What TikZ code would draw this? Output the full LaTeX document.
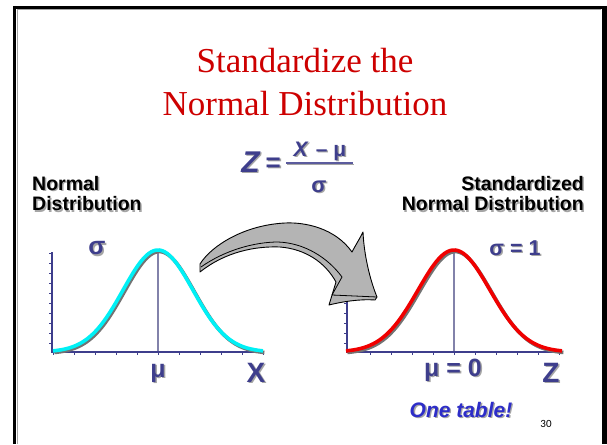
\documentclass[tikz,border=0pt]{standalone}
\usepackage{fontspec}
\setmainfont{Liberation Serif}
\newfontfamily\arialf{Liberation Sans}
\newfontfamily\calibf{Carlito}
\definecolor{slate}{RGB}{62,62,140}
\definecolor{shadowc}{RGB}{165,165,165}
\definecolor{ticol}{RGB}{205,0,0}
\definecolor{tblue}{RGB}{45,45,200}
\definecolor{meanl}{RGB}{130,130,170}
\definecolor{arrowg}{RGB}{180,180,180}
\definecolor{cyanc}{RGB}{0,240,245}
\definecolor{redc}{RGB}{240,0,0}
\newcommand{\shd}[1]{\leavevmode\rlap{\kern1.4pt\raisebox{-1.4pt}{\color{shadowc}#1}}#1}
\newcommand{\fsz}[1]{\fontsize{#1}{#1}\selectfont}
\begin{document}
\begin{tikzpicture}[x=1pt,y=-1pt,
  title/.style={text=ticol,font=\fsz{35},anchor=base,inner sep=0pt},
  lbl/.style={text=slate,font=\arialf\bfseries\fsz{25},anchor=base,inner sep=0pt},
  hdr/.style={text=black,font=\arialf\bfseries\fsz{19.5},inner sep=0pt},
  axisl/.style={draw=slate,line width=2pt},
  tick/.style={draw=slate,line width=1pt},
  meanline/.style={draw=meanl,line width=1.3pt},
  curveshadow/.style={draw=black!55,line width=3.6pt},
]
\useasboundingbox (0,0) rectangle (607,444);
% frame
\draw[shadowc,line width=1pt] (17,10) -- (601,10);
\draw[shadowc,line width=1pt] (17,10) -- (17,444);
\draw[black,line width=3pt] (13,7.5) -- (607,7.5);
\draw[black,line width=3pt] (14.5,6) -- (14.5,444);
\draw[black,line width=5pt] (604.5,6) -- (604.5,444);

% title
\node[title] (t1) at (305,73) {Standardize the};
\node[title] (t2) at (305,115) {Normal Distribution};

% formula
\node[lbl,font=\arialf\bfseries\fsz{26},anchor=base east] (fz) at (281,172)
  {\shd{{\itshape\fsz{30}Z}\kern6pt\raisebox{1pt}{=}}};
\node[lbl,font=\arialf\bfseries\fsz{21}] (fnum) at (320,156) {\shd{\textit{X}\kern7pt–\kern6ptμ}};
\coordinate (fb1) at (286,163);
\coordinate (fb2) at (353,163);
\draw[shadowc,line width=1.5pt] ([shift={(1.3,1.3)}]fb1) -- ([shift={(1.3,1.3)}]fb2);
\draw[slate!85,line width=1.5pt] (fb1) -- (fb2);
\node[lbl,font=\arialf\bfseries\fsz{22}] (fsig) at (319,192) {\shd{σ}};

% headers
\node[hdr,align=left,anchor=north west] (hl) at (32,176) {\shd{Normal}\\[1pt]\shd{Distribution}};
\node[hdr,align=right,anchor=north east] (hr) at (584,176) {\shd{Standardized}\\[1pt]\shd{Normal Distribution}};

% ---------- left plot ----------
\coordinate (lo) at (52,352);
\coordinate (ltop) at (52,252);
\coordinate (lend) at (264,352);
\coordinate (lpk) at (158,250);
\coordinate (lbase) at (158,352);
\foreach \k in {0,...,9} {\draw[tick] (49,253+10*\k) -- (52,253+10*\k);}
\foreach \k in {-5,...,5} {\draw[tick] (158+21*\k,352) -- (158+21*\k,355);}
\draw[meanline] (lpk) -- (lbase);
\draw[axisl] (ltop) -- (lo) -- (lend);
\draw[curveshadow,shift={(1.4,1.6)}] plot[domain=-3:3,samples=80,smooth] ({158+35*\x},{352-102*exp(-\x*\x/2)});
\draw[cyanc,line width=3.6pt] plot[domain=-3:3,samples=80,smooth] ({158+35*\x},{352-102*exp(-\x*\x/2)});
\node[lbl,anchor=center] (lsig) at (97,249) {\shd{σ}};
\node[lbl] (lmu) at (158,377) {\shd{μ}};
\node[lbl,font=\arialf\bfseries\fsz{28}] (lx) at (256,382) {\shd{X}};

% ---------- right plot ----------
\coordinate (ro) at (347,352);
\coordinate (rtop) at (347,252);
\coordinate (rend) at (562,352);
\coordinate (rpk) at (454,250);
\coordinate (rbase) at (454,352);
\foreach \k in {0,...,9} {\draw[tick] (344,253+10*\k) -- (347,253+10*\k);}
\foreach \k in {-4,...,5} {\draw[tick] (454+21*\k,352) -- (454+21*\k,355);}
\draw[meanline] (rpk) -- (rbase);
\draw[axisl] (rtop) -- (ro) -- (rend);
\draw[curveshadow,shift={(1.4,1.6)}] plot[domain=-3:3,samples=80,smooth] ({454+36*\x},{352-102*exp(-\x*\x/2)});
\draw[redc,line width=3.6pt] plot[domain=-3:3,samples=80,smooth] ({454+36*\x},{352-102*exp(-\x*\x/2)});
\node[lbl,font=\arialf\bfseries\fsz{21.5}] (rsig) at (515,255) {\shd{σ = 1}};
\node[lbl] (rmu) at (453,376) {\shd{μ = 0}};
\node[lbl,font=\arialf\bfseries\fsz{28}] (rz) at (551,382) {\shd{Z}};

% ---------- curved 3D arrow ----------
\filldraw[fill=arrowg,draw=black,line width=0.9pt,line join=round]
  (200,272)
  .. controls (225,252) and (255,246) .. (280,247)
  .. controls (305,249) and (325,262) .. (336,282)
  -- (329,305)
  .. controls (345,301) and (362,299) .. (375,300)
  -- (377,297)
  .. controls (370,280) and (364,255) .. (363,232)
  .. controls (359,240) and (355,246) .. (352,252)
  .. controls (335,228) and (305,222) .. (285,223)
  .. controls (245,225) and (212,245) .. (200,264)
  -- cycle;
\draw[black,line width=0.8pt,line join=round]
  (201,267) .. controls (225,250) and (255,242) .. (278,242)
  .. controls (305,243) and (328,258) .. (342,277)
  -- (332,295) -- (377,297);

% footer
\node[lbl,text=tblue,font=\arialf\bfseries\itshape\fsz{21}] (tab) at (461,417) {\shd{One table!}};
\node[anchor=base,inner sep=0pt,font=\calibf\fsz{11}] (pg) at (546,427) {30};
\end{tikzpicture}
\end{document}
